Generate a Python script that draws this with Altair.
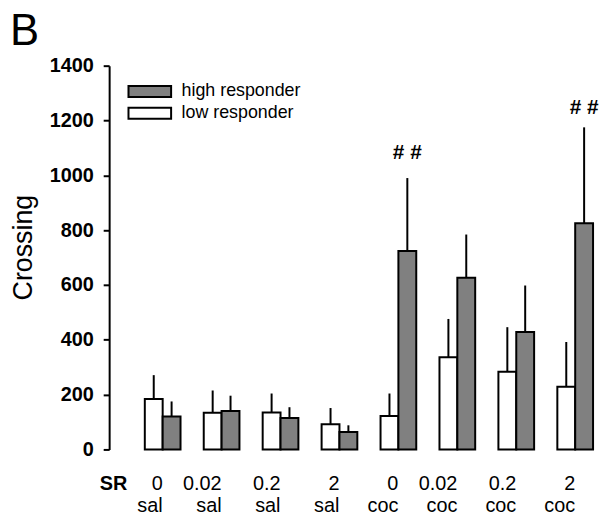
import altair as alt
import pandas as pd

categories = ["0 sal", "0.02 sal", "0.2 sal", "2 sal", "0 coc", "0.02 coc", "0.2 coc", "2 coc"]
series = ["low responder", "high responder"]
low_mean = [184, 134, 135, 92, 122, 336, 283, 229]
low_sem = [87, 81, 69, 59, 82, 140, 163, 163]
high_mean = [120, 140, 115, 64, 724, 626, 428, 825]
high_sem = [55, 56, 39, 24, 266, 158, 170, 350]
sig_groups = ["0 coc", "2 coc"]
sig_y = [1060, 1223]

rows = []
for i, g in enumerate(categories):
    rows.append({"group": g, "series": series[0], "mean": low_mean[i], "top": low_mean[i] + low_sem[i]})
    rows.append({"group": g, "series": series[1], "mean": high_mean[i], "top": high_mean[i] + high_sem[i]})
df = pd.DataFrame(rows)
sig_df = pd.DataFrame({"group": sig_groups, "series": ["high responder"] * len(sig_groups),
                       "mean": sig_y, "label": ["# #"] * len(sig_groups)})

FONT = "Liberation Sans"

x_enc = alt.X("group:N", sort=categories,
              scale=alt.Scale(paddingInner=0.394, paddingOuter=0.311, align=0.973),
              axis=alt.Axis(title="SR", titleFontWeight="bold", titleFontSize=20,
                            titleX=4, titleY=40, titleBaseline="alphabetic", titleAlign="center",
                            labelExpr="split(datum.label, ' ')", labelFontSize=20,
                            labelLineHeight=23, labelBaseline="alphabetic", labelPadding=40,
                            labelAngle=0, ticks=False, domain=False, labelColor="black",
                            titleColor="black"))
xo_enc = alt.XOffset("series:N", sort=series,
                     scale=alt.Scale(domain=series, paddingInner=0, paddingOuter=0))
y_enc = alt.Y("mean:Q", scale=alt.Scale(domain=[0, 1400], nice=False),
              axis=alt.Axis(title="Crossing", titleFontSize=27, titleFontWeight="normal",
                            titleX=-86, titleY=183, titleBaseline="middle", titleAlign="center",
                            titleAngle=270, values=[0, 200, 400, 600, 800, 1000, 1200, 1400],
                            format="d",
                            labelFontSize=20, labelFontWeight="bold", labelPadding=10,
                            tickSize=6, tickWidth=2, domainWidth=2, domainColor="black",
                            tickColor="black", labelColor="black", titleColor="black",
                            grid=False))

bars = alt.Chart(df).mark_bar(stroke="black", strokeWidth=2).encode(
    x=x_enc, xOffset=xo_enc, y=y_enc,
    fill=alt.Fill("series:N", scale=alt.Scale(domain=series, range=["white", "#808080"]),
                  legend=alt.Legend(orient="none", legendX=29, legendY=14, title=None,
                                    values=["high responder", "low responder"],
                                    symbolType="M-2,-0.512H2V0.512H-2Z", symbolSize=462,
                                    symbolStrokeColor="black", symbolStrokeWidth=2,
                                    symbolOpacity=1,
                                    labelFontSize=18, labelOffset=20, labelColor="black",
                                    rowPadding=0)))

errs = alt.Chart(df).mark_rule(strokeWidth=2, color="black").encode(
    x=alt.X("group:N", sort=categories), xOffset=alt.XOffset("series:N", sort=series),
    y=alt.Y("top:Q"), y2="mean:Q")

sig = alt.Chart(sig_df).mark_text(fontSize=21, fontWeight="bold", baseline="alphabetic",
                                  color="black").encode(
    x=alt.X("group:N", sort=categories), xOffset=alt.XOffset("series:N", sort=series),
    y=alt.Y("mean:Q"), text="label:N")

chart = alt.layer(errs, bars, sig).properties(
    width=489, height=387,
    title=alt.TitleParams("B", anchor="start", frame="group", fontSize=44,
                          fontWeight="normal", dx=-100, offset=2, color="black", font=FONT),
    autosize=alt.AutoSizeParams(type="none"),
    padding={"left": 102, "top": 56, "right": 5, "bottom": 68},
).configure(font=FONT).configure_view(stroke=None)

chart.save("out.html", embed_options={"renderer": "svg", "actions": False})
